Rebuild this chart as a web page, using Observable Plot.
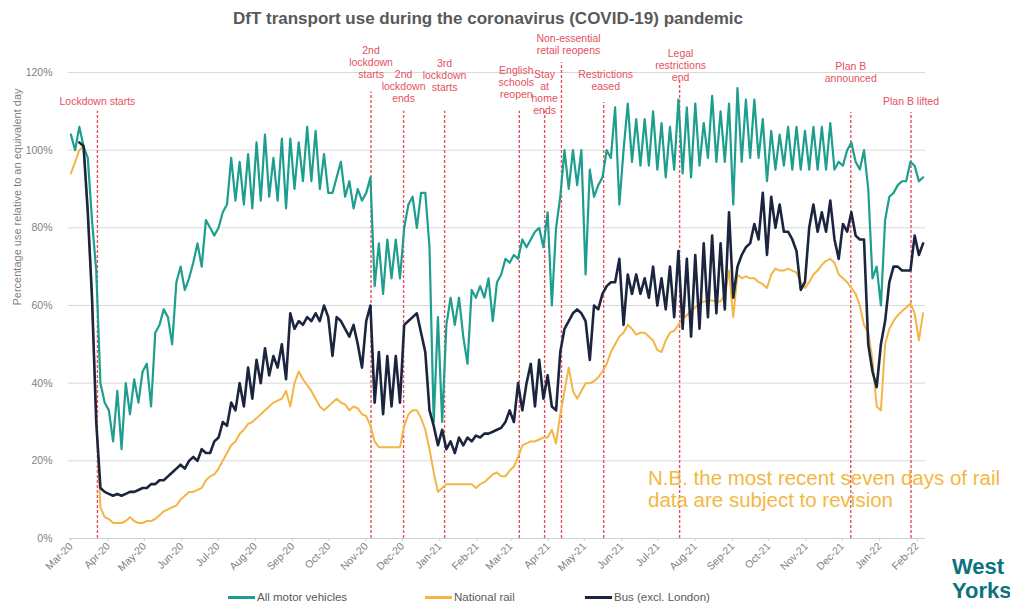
<!DOCTYPE html>
<html>
<head>
<meta charset="utf-8">
<script src="https://cdn.jsdelivr.net/npm/d3@7"></script>
<script src="https://cdn.jsdelivr.net/npm/@observablehq/plot@0.6"></script>
<style>
html, body { margin: 0; padding: 0; background: #fff; overflow: hidden; }
#wrap { position: relative; width: 1010px; height: 606px; overflow: hidden; font-family: "Liberation Sans", Arial, sans-serif; }
#chart { position: absolute; left: 0; top: 0; }
.title { position: absolute; left: 188px; width: 600px; top: 9px; text-align: center; font-weight: bold; font-size: 17px; color: #595959; white-space: nowrap; }
.leg { position: absolute; top: 590px; height: 14px; display: flex; align-items: center; font-size: 11.5px; color: #595959; white-space: nowrap; }
.leg .sw { display: inline-block; width: 27px; height: 3px; margin-right: 2px; }
.note { position: absolute; left: 648px; top: 467px; font-size: 20.5px; line-height: 22px; color: #f2b843; white-space: nowrap; }
.logo { position: absolute; left: 952px; top: 555px; font-size: 22px; line-height: 24px; font-weight: bold; color: #0b7380; white-space: nowrap; }
</style>
</head>
<body>
<div id="wrap">
  <div id="chart"></div>
</div>
<script>
// ---------- data ----------
const title = "DfT transport use during the coronavirus (COVID-19) pandemic";
const yLabel = "Percentage use relative to an equivalent day";
const seriesNames = ["All motor vehicles", "National rail", "Bus (excl. London)"];
const firstDay = "2020-03-01";      // first observation
const stepDays = 3.5;               // spacing between readings
const yTickValues = [0, 20, 40, 60, 80, 100, 120];
const monthTickFormat = "%b-%y";

const motorVehicles = [104, 100, 106, 101, 98, 82, 69, 40, 35, 33, 25, 38, 23, 40, 32, 41, 35, 43, 45, 34, 53, 55, 59, 57, 50, 66, 70, 64, 67, 71, 76, 70, 82, 80,
  78, 80, 84, 86, 98, 87, 97, 86, 99, 85, 102, 87, 104, 88, 98, 87, 103, 85, 103, 90, 102, 92, 106, 92, 105, 90, 99, 89, 89, 93, 97, 88, 92,
  85, 90, 87, 89, 93, 65, 76, 63, 77, 67, 77, 67, 80, 86, 88, 80, 89, 89, 75, 30, 57, 30, 55, 62, 55, 62, 52, 45, 64, 62, 65, 62, 67, 56, 66,
  68, 72, 71, 73, 72, 77, 75, 77, 79, 80, 75, 84, 60, 80, 88, 100, 90, 100, 91, 100, 68, 95, 88, 91, 93, 100, 98, 111, 86, 100, 112, 97, 108,
  96, 108, 96, 110, 95, 107, 93, 106, 95, 113, 94, 111, 93, 112, 96, 107, 98, 114, 97, 110, 97, 112, 86, 116, 97, 113, 98, 113, 98, 108, 92, 105, 95, 104, 96,
  106, 95, 106, 95, 105, 95, 106, 95, 106, 95, 107, 95, 97, 96, 100, 102, 97, 95, 100, 90, 67, 70, 60, 82, 88, 89, 91, 92, 92, 97, 96, 92, 93];

const nationalRail = [94, 97, 100, 101, 85, 62, 32, 8, 5.5, 5, 4, 4, 4, 4.5, 5.5, 4.5, 4, 4, 4.5, 4.5, 5, 6, 7, 7.5, 8, 8.5, 10, 11, 12, 12, 12.5, 13, 15, 16,
  16.5, 18, 20, 22, 24, 25, 27, 28, 29.5, 30, 31, 32, 33, 34, 35, 35.5, 36, 38, 34, 40, 43, 41, 39.5, 38, 36, 34, 33, 34, 35, 36, 35, 34.5, 33,
  34, 33.5, 32, 31.5, 29, 25, 23.5, 23.5, 23.5, 23.5, 23.5, 23.5, 29, 32, 33, 33, 31, 28, 23, 17, 12, 13, 14, 14, 14, 14, 14, 14, 14, 13, 14, 14.5, 15.5, 16.5, 17,
  16, 16, 17.5, 18.5, 21, 24, 24.5, 25, 25, 25.5, 26, 26, 28, 24.5, 32, 38, 44, 38, 36, 38, 40, 40, 40.5, 41.5, 43, 45, 48, 50, 52, 53, 55, 54, 52.5,
  53, 53, 52, 51, 48.5, 48, 51, 53, 53.5, 55, 56.5, 57.5, 58.5, 59.5, 60.5, 61, 61.3, 61.3, 61, 61, 63, 69, 57, 68, 67, 67.5, 67, 67, 66, 65.5, 64.5, 68, 69.5, 69, 69,
  69.5, 69, 68.5, 66, 64.5, 66, 68, 69, 70.5, 71.5, 72, 71, 68, 67, 66, 64.5, 63, 60, 55, 53, 46, 34, 33, 50, 54, 56, 57.5, 58.5, 59.5, 60.5, 58, 51, 58];

const busExclLondon = [null, null, 102, 101, 84, 62, 30, 13, 12, 11.5, 11, 11.5, 11, 11.5, 12, 12, 12.5, 13, 13, 14, 14, 15, 15, 16, 17, 18, 19, 18, 20, 21, 20, 23, 22, 22,
  25, 26, 30, 29, 35, 33, 40, 34, 44, 36, 46, 40, 49, 42, 47, 44, 50, 41, 58, 54, 56, 55, 57, 56, 58, 56, 60, 57, 47, 57, 56, 54, 52,
  55, 50, 44, 56, 60, 35, 48, 32, 47, 34, 47, 35, 55, 56, 57, 58, 53, 48, 33, 29, 24, 28, 23, 25, 22, 26, 24, 26, 25, 26.5, 26, 27, 27, 27.5, 28,
  28.5, 30, 33, 30, 40, 33, 40, 45, 34, 46, 36, 42, 34, 33, 48, 54, 56, 58, 59, 58, 56, 46, 60, 59, 63, 65, 66, 66, 72, 55, 68, 63, 68,
  63, 67, 62, 70, 60, 67, 59, 70, 57, 74, 54, 72, 52, 73, 54, 76, 57, 78, 58, 76, 59, 84, 62, 70, 73, 75, 76, 81, 77, 89, 73, 88, 80, 86, 79,
  79, 77, 74, 64, 66, 80, 86, 79, 84, 79, 87, 77, 72, 81, 79, 84, 78, 77, 77, 50, 43, 39, 50, 56, 66, 70, 70, 69, 69, 69, 78, 73, 76];

const eventDates = ["2020-03-23", "2020-11-05", "2020-12-02", "2021-01-05", "2021-03-08", "2021-03-29",
  "2021-04-12", "2021-05-17", "2021-07-19", "2021-12-08", "2022-01-27"];
const eventLabels = ["Lockdown starts", "2nd\nlockdown\nstarts", "2nd\nlockdown\nends", "3rd\nlockdown\nstarts",
  "English\nschools\nreopen", "Stay\nat\nhome\nends", "Non-essential\nretail reopens", "Restrictions\neased",
  "Legal\nrestrictions\nend", "Plan B\nannounced", "Plan B lifted"];

const noteLines = ["N.B. the most recent seven days of rail", "data are subject to revision"];
const logoLines = ["West", "Yorkshire"];

// ---------- layout (not data) ----------
const labelFirstLineY = [112.8, 126, 119.8, 122.6, 120.8, 119.8, 129, 119.8, 125.1, 121.8, 112.8]; // in y units
const lineTopY = [110, 115, 110, 110, 110, 110, 122.6, 112.3, 118, 109.7, 109.7];
const labelDx = [0, 0, 0, 0, -3, 0, 7, 2, 1, 0, 0];
const TEAL = "#1d9e8e", ORANGE = "#f3b644", NAVY = "#1b2540", RED = "#e5505d";
const seriesColors = [TEAL, ORANGE, NAVY];
const seriesWidths = [2.2, 2, 2.6];
const legendLeft = [228, 425, 585];

// ---------- build ----------
const DAY = 864e5;
const start = Date.parse(firstDay + "T00:00:00Z");
const rowsOf = (values) => values.map((v, i) => ({date: new Date(start + i * stepDays * DAY), value: v}));
const allSeries = [motorVehicles, nationalRail, busExclLondon].map(rowsOf);

const events = eventDates.map((d, i) => ({
  date: new Date(d + "T00:00:00Z"), label: eventLabels[i],
  labelY: labelFirstLineY[i], top: lineTopY[i], dx: labelDx[i]
}));

const monthTicks = d3.utcMonth.range(new Date(start), new Date(Date.UTC(2022, 2, 1)));
const xDomain = [new Date(start - 2 * DAY), new Date(start + 709 * DAY)];

const chart = Plot.plot({
  width: 1010, height: 606,
  marginLeft: 68, marginRight: 85, marginTop: 72, marginBottom: 68,
  style: {fontFamily: "'Liberation Sans', Arial, sans-serif", background: "transparent", overflow: "visible"},
  x: {type: "utc", domain: xDomain},
  y: {domain: [0, 120]},
  marks: [
    Plot.gridY(yTickValues, {stroke: "#d9d9d9", strokeOpacity: 1, strokeWidth: 1}),
    Plot.ruleY([0], {stroke: "#d0d0d0", strokeWidth: 1}),
    Plot.ruleX(monthTicks, {x: d => d, y1: 0, y2: -0.8, stroke: "#d0d0d0"}),
    Plot.axisY(yTickValues, {tickFormat: d => d + "%", tickSize: 0, tickPadding: 16, fontSize: 10.5, color: "#7f7f7f", label: null}),
    Plot.axisX(monthTicks, {tickFormat: d3.utcFormat(monthTickFormat), tickRotate: -45, tickSize: 0, tickPadding: 6, fontSize: 10.5, color: "#7f7f7f", label: null}),
    Plot.text([yLabel], {frameAnchor: "left", dx: -51, rotate: -90, fontSize: 11, fill: "#7f7f7f"}),
    Plot.ruleX(events, {x: "date", y1: 0, y2: "top", stroke: RED, strokeDasharray: "3,2", strokeWidth: 1.4}),
    ...events.map(e => Plot.text([e], {x: "date", y: "labelY", text: "label", dx: e.dx, dy: -4,
      lineAnchor: "top", lineHeight: 1.15, fontSize: 10.5, fill: RED, textAnchor: "middle"})),
    ...allSeries.map((rows, k) => Plot.line(rows, {x: "date", y: "value", stroke: seriesColors[k], strokeWidth: seriesWidths[k]}))
  ]
});
document.getElementById("chart").appendChild(chart);

// ---------- overlays: title, legend, note, logo ----------
const wrap = document.getElementById("wrap");
const t = document.createElement("div");
t.className = "title"; t.textContent = title; wrap.appendChild(t);
seriesNames.forEach((name, k) => {
  const d = document.createElement("div");
  d.className = "leg"; d.style.left = legendLeft[k] + "px";
  const sw = document.createElement("span");
  sw.className = "sw"; sw.style.background = seriesColors[k];
  d.appendChild(sw); d.appendChild(document.createTextNode(name));
  wrap.appendChild(d);
});
const note = document.createElement("div");
note.className = "note"; note.innerHTML = noteLines.join("<br>"); wrap.appendChild(note);
const logo = document.createElement("div");
logo.className = "logo"; logo.innerHTML = logoLines.join("<br>"); wrap.appendChild(logo);
</script>
</body>
</html>
